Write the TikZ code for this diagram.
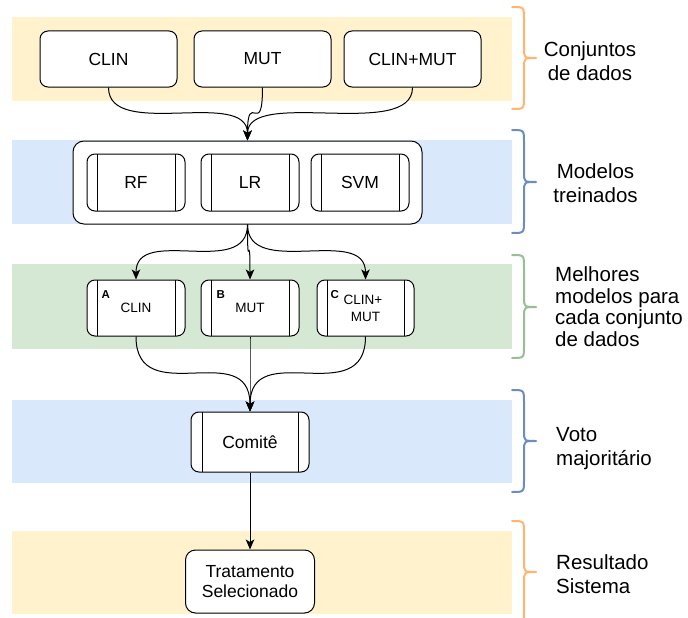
\documentclass[tikz,border=0pt]{standalone}
\usepackage{fontspec}
\setmainfont{Liberation Sans}
\usetikzlibrary{arrows.meta,calc}

\definecolor{bandorange}{HTML}{FFF2CC}
\definecolor{bandblue}{HTML}{DAE8FC}
\definecolor{bandgreen}{HTML}{D5E8D4}
\definecolor{braceorange}{HTML}{FFB570}
\definecolor{braceblue}{HTML}{6C8EBF}
\definecolor{bracegreen}{HTML}{97BE97}

\tikzset{
  boxfont/.style={font=\fontsize{17.5}{20.5}\selectfont},
  databox/.style={draw, line width=1pt, rounded corners=8pt, fill=white,
    minimum width=137pt, minimum height=56pt, inner sep=0pt, boxfont},
  container/.style={draw, line width=1pt, rounded corners=11pt, fill=white,
    minimum width=349pt, minimum height=83pt, inner sep=0pt},
  procbox/.style={draw, line width=1pt, rounded corners=8pt, fill=white,
    inner sep=0pt, boxfont, align=center,
    path picture={
      \draw[line width=1pt]
        ([xshift=#1]path picture bounding box.north west) --
        ([xshift=#1]path picture bounding box.south west);
      \draw[line width=1pt]
        ([xshift=-#1]path picture bounding box.north east) --
        ([xshift=-#1]path picture bounding box.south east);}},
  procbox/.default=10pt,
  bestbox/.style={procbox, minimum width=98pt, minimum height=56pt,
    font=\fontsize{13.5}{17}\selectfont},
  tag/.style={inner sep=0pt, anchor=north west,
    font=\fontsize{11.5}{13}\selectfont\bfseries},
  sidelabel/.style={inner sep=0pt, font=\fontsize{20.5}{24}\selectfont},
  flow/.style={line width=1pt, -{Stealth[length=10pt, width=8.5pt, inset=2.5pt]}},
  bracestroke/.style={draw=#1, line width=2pt, line cap=round}
}

% curly bracket: left x, spine x, tip x fixed; #1 colour, #2 top, #3 middle, #4 bottom
\newcommand\sidebrace[4]{%
  \draw[bracestroke=#1]
    (512,#2) .. controls (524,#2) .. (524,#2+12) -- (524,#3-10)
    .. controls (524,#3) .. (536,#3)
    (536,#3) .. controls (524,#3) .. (524,#3+10) -- (524,#4-12)
    .. controls (524,#4) .. (512,#4);}

\begin{document}
\begin{tikzpicture}[x=1pt, y=-1pt]
  \useasboundingbox (0,0) rectangle (688,618);

  % coloured stage bands
  \fill[bandorange] (12,17) rectangle (512,101);
  \fill[bandblue]   (12,140) rectangle (512,224);
  \fill[bandgreen]  (12,264) rectangle (512,349);
  \fill[bandblue]   (12,400) rectangle (512,483);
  \fill[bandorange] (12,531) rectangle (512,614);

  % brackets at the right
  \sidebrace{braceorange}{7}{58}{109}
  \sidebrace{braceblue}{130}{182}{233}
  \sidebrace{bracegreen}{255}{307}{358}
  \sidebrace{braceblue}{390}{441}{492}
  \sidebrace{braceorange}{521}{572}{623}

  % data sets
  \node[databox] (clin)    at (108.5,59) {CLIN};
  \node[databox] (mut)     at (262.5,59) {MUT};
  \node[databox] (clinmut) at (412.5,59) {CLIN+MUT};

  % trained models
  \node[container] (models) at (247.5,182.5) {};
  \node[procbox, minimum width=98pt, minimum height=57pt] (rf)  at (136,182.5) {RF};
  \node[procbox, minimum width=98pt, minimum height=57pt] (lr)  at (250,182.5) {LR};
  \node[procbox, minimum width=98pt, minimum height=57pt] (svm) at (360,182.5) {SVM};

  % best model for each data set
  \node[bestbox] (a) at (136,308) {CLIN};
  \node[bestbox] (b) at (250,308) {MUT};
  \node[bestbox, minimum width=97pt] (c) at (365.5,308) {\hspace*{-5pt}CLIN+\\MUT};
  \node[tag] (ta) at ([xshift=15pt,yshift=-11pt]a.north west) {A};
  \node[tag] (tb) at ([xshift=16pt,yshift=-11pt]b.north west) {B};
  \node[tag] (tc) at ([xshift=14pt,yshift=-11pt]c.north west) {C};

  % committee and result
  \node[procbox=11pt, minimum width=118pt, minimum height=60pt] (comite) at (250,442) {Comitê};
  \node[databox, rounded corners=10pt, minimum width=129pt, minimum height=63pt,
        align=center] (trat) at (250,581.5) {Tratamento\\Selecionado};

  % connectors
  \foreach \s in {clin, mut, clinmut}
    \draw[flow] (\s.south) .. controls (\s.south |- models.north)
      and (models.north |- \s.south) .. (models.north);
  \foreach \t in {a, b, c}
    \draw[flow] (models.south) .. controls (models.south |- \t.north)
      and (\t.north |- models.south) .. (\t.north);
  \foreach \s in {a, b, c}
    \draw[flow] (\s.south) .. controls (\s.south |- comite.north)
      and (comite.north |- \s.south) .. (comite.north);
  \draw[flow] (comite.south) -- (trat.north);

  % stage labels (base anchor sits on the last line)
  \node[sidelabel, align=center, anchor=base] (l1) at (590,81) {Conjuntos\\de dados};
  \node[sidelabel, align=center, anchor=base] (l2) at (595.5,202) {Modelos\\treinados};
  \node[sidelabel, align=left, anchor=base west,
        font=\fontsize{20.5}{21.5}\selectfont] (l3) at (555,346)
        {Melhores\\modelos para\\cada conjunto\\de dados};
  \node[sidelabel, align=left, anchor=base west] (l4) at (556,465) {Voto\\majoritário};
  \node[sidelabel, align=left, anchor=base west] (l5) at (556,593) {Resultado\\Sistema};
\end{tikzpicture}
\end{document}
